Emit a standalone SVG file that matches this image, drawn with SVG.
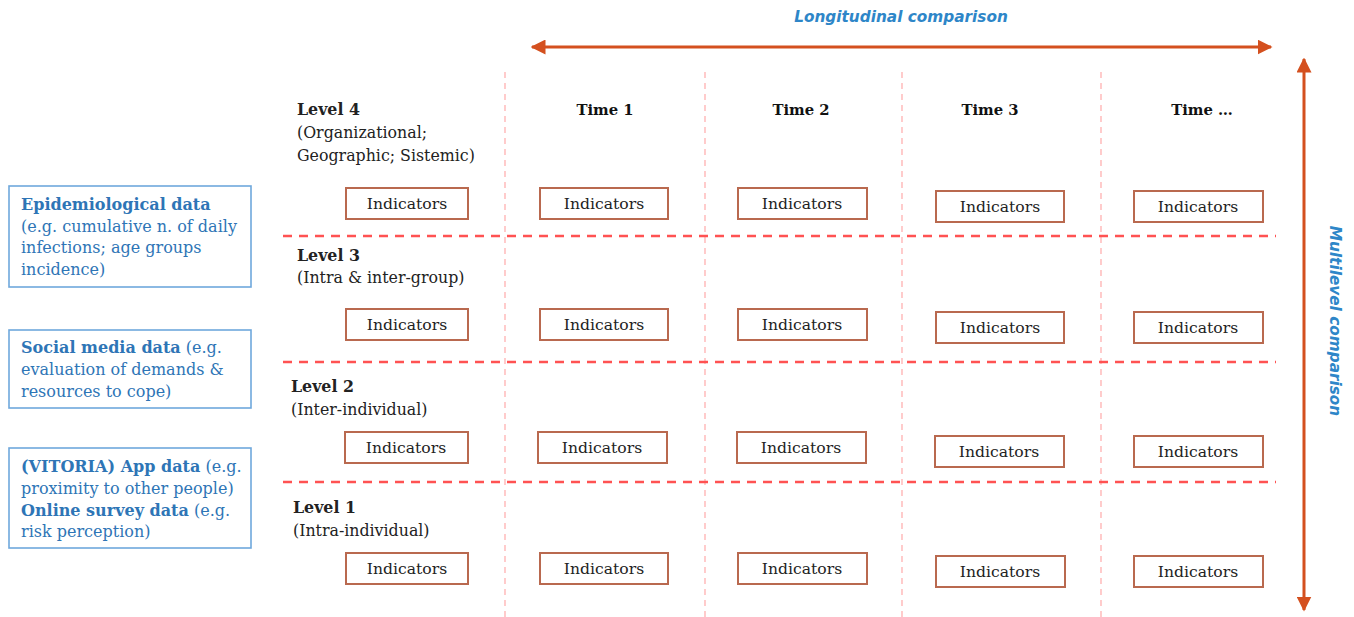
<svg xmlns="http://www.w3.org/2000/svg" width="1354" height="617" viewBox="0 0 1354 617">
<defs>
<style>
.src{fill:#fff;stroke:#6fa8dc;stroke-width:1.6}
.bt{font-family:"DejaVu Serif","Liberation Serif",serif;font-size:16px;fill:#2e75b6}
.bt .b{font-weight:bold}
.lv{font-family:"DejaVu Serif","Liberation Serif",serif;font-size:15.8px;fill:#222}
.lv .b{font-weight:bold}
.tm{font-family:"DejaVu Serif","Liberation Serif",serif;font-size:14.8px;font-weight:bold;fill:#111;text-anchor:middle}
.ind rect{fill:#fff;stroke:#b9694f;stroke-width:2}
.ind text{font-family:"DejaVu Serif","Liberation Serif",serif;font-size:15.6px;fill:#222;text-anchor:middle}
.vd{stroke:#ffaaaa;stroke-width:1.2;stroke-dasharray:6 5;fill:none}
.hd{stroke:#ff5252;stroke-width:2.5;stroke-dasharray:9 7;fill:none}
.arr{stroke:#d4501f;stroke-width:3;fill:none}
.lab{font-family:"DejaVu Sans","Liberation Sans",sans-serif;font-size:15.3px;font-style:italic;font-weight:bold;fill:#2e86c8}
</style>
<marker id="ah" viewBox="0 0 10 10" refX="9" refY="5" markerWidth="5" markerHeight="5" orient="auto-start-reverse" markerUnits="strokeWidth">
<path d="M0,0 L10,5 L0,10 Z" fill="#d4501f"/>
</marker>
</defs>
<rect width="1354" height="617" fill="#fff"/>

<g id="grid">
<line class="vd" x1="505" y1="72" x2="505" y2="617"/>
<line class="vd" x1="705" y1="72" x2="705" y2="617"/>
<line class="vd" x1="902" y1="72" x2="902" y2="617"/>
<line class="vd" x1="1101" y1="72" x2="1101" y2="617"/>
<line class="hd" x1="283" y1="236" x2="1276" y2="236"/>
<line class="hd" x1="283" y1="362" x2="1276" y2="362"/>
<line class="hd" x1="283" y1="482" x2="1276" y2="482"/>
</g>

<g id="connectors">
<line class="arr" x1="532" y1="47" x2="1271" y2="47" marker-start="url(#ah)" marker-end="url(#ah)"/>
<line class="arr" x1="1304" y1="59" x2="1304" y2="610" marker-start="url(#ah)" marker-end="url(#ah)"/>
</g>

<g id="axis-labels">
<text class="lab" x="901" y="22" text-anchor="middle">Longitudinal comparison</text>
<text class="lab" transform="translate(1330,321) rotate(90)" text-anchor="middle">Multilevel comparison</text>
</g>

<g id="src-epi">
<rect class="src" x="9" y="186" width="242" height="101"/>
<text class="bt" x="21"><tspan class="b" x="21" y="210">Epidemiological data</tspan><tspan x="21" y="232">(e.g. cumulative n. of daily</tspan><tspan x="21" y="253">infections; age groups</tspan><tspan x="21" y="275">incidence)</tspan></text>
</g>
<g id="src-social">
<rect class="src" x="9" y="330" width="242" height="78"/>
<text class="bt" x="21"><tspan x="21" y="353"><tspan class="b">Social media data</tspan> (e.g.</tspan><tspan x="21" y="375">evaluation of demands &amp;</tspan><tspan x="21" y="397">resources to cope)</tspan></text>
</g>
<g id="src-app">
<rect class="src" x="9" y="448" width="242" height="100"/>
<text class="bt" x="21"><tspan x="21" y="472"><tspan class="b">(VITORIA) App data</tspan> (e.g.</tspan><tspan x="21" y="494">proximity to other people)</tspan><tspan x="21" y="516"><tspan class="b">Online survey data</tspan> (e.g.</tspan><tspan x="21" y="537">risk perception)</tspan></text>
</g>

<g id="times">
<text class="tm" x="605" y="115">Time 1</text>
<text class="tm" x="801" y="115">Time 2</text>
<text class="tm" x="990" y="115">Time 3</text>
<text class="tm" x="1202" y="115">Time …</text>
</g>

<g id="level4"><text class="lv"><tspan class="b" x="297" y="115">Level 4</tspan><tspan x="297" y="138">(Organizational;</tspan><tspan x="297" y="161">Geographic; Sistemic)</tspan></text></g>
<g id="level3"><text class="lv"><tspan class="b" x="297" y="261">Level 3</tspan><tspan x="297" y="283">(Intra &amp; inter-group)</tspan></text></g>
<g id="level2"><text class="lv"><tspan class="b" x="291" y="392">Level 2</tspan><tspan x="291" y="415">(Inter-individual)</tspan></text></g>
<g id="level1"><text class="lv"><tspan class="b" x="293" y="513">Level 1</tspan><tspan x="293" y="536">(Intra-individual)</tspan></text></g>

<g id="ind-r1c0" class="ind"><rect x="346" y="188" width="122" height="31"/><text x="407" y="209">Indicators</text></g>
<g id="ind-r1c1" class="ind"><rect x="540" y="188" width="128" height="31"/><text x="604" y="209">Indicators</text></g>
<g id="ind-r1c2" class="ind"><rect x="738" y="188" width="129" height="31"/><text x="802" y="209">Indicators</text></g>
<g id="ind-r1c3" class="ind"><rect x="936" y="191" width="128" height="31"/><text x="1000" y="212">Indicators</text></g>
<g id="ind-r1c4" class="ind"><rect x="1134" y="191" width="129" height="31"/><text x="1198" y="212">Indicators</text></g>

<g id="ind-r2c0" class="ind"><rect x="346" y="309" width="122" height="31"/><text x="407" y="330">Indicators</text></g>
<g id="ind-r2c1" class="ind"><rect x="540" y="309" width="128" height="31"/><text x="604" y="330">Indicators</text></g>
<g id="ind-r2c2" class="ind"><rect x="738" y="309" width="129" height="31"/><text x="802" y="330">Indicators</text></g>
<g id="ind-r2c3" class="ind"><rect x="936" y="312" width="128" height="31"/><text x="1000" y="333">Indicators</text></g>
<g id="ind-r2c4" class="ind"><rect x="1134" y="312" width="129" height="31"/><text x="1198" y="333">Indicators</text></g>

<g id="ind-r3c0" class="ind"><rect x="345" y="432" width="123" height="31"/><text x="406" y="453">Indicators</text></g>
<g id="ind-r3c1" class="ind"><rect x="538" y="432" width="129" height="31"/><text x="602" y="453">Indicators</text></g>
<g id="ind-r3c2" class="ind"><rect x="737" y="432" width="129" height="31"/><text x="801" y="453">Indicators</text></g>
<g id="ind-r3c3" class="ind"><rect x="935" y="436" width="129" height="31"/><text x="999" y="457">Indicators</text></g>
<g id="ind-r3c4" class="ind"><rect x="1134" y="436" width="129" height="31"/><text x="1198" y="457">Indicators</text></g>

<g id="ind-r4c0" class="ind"><rect x="346" y="553" width="122" height="31"/><text x="407" y="574">Indicators</text></g>
<g id="ind-r4c1" class="ind"><rect x="540" y="553" width="128" height="31"/><text x="604" y="574">Indicators</text></g>
<g id="ind-r4c2" class="ind"><rect x="738" y="553" width="129" height="31"/><text x="802" y="574">Indicators</text></g>
<g id="ind-r4c3" class="ind"><rect x="936" y="556" width="129" height="31"/><text x="1000" y="577">Indicators</text></g>
<g id="ind-r4c4" class="ind"><rect x="1134" y="556" width="129" height="31"/><text x="1198" y="577">Indicators</text></g>
</svg>
